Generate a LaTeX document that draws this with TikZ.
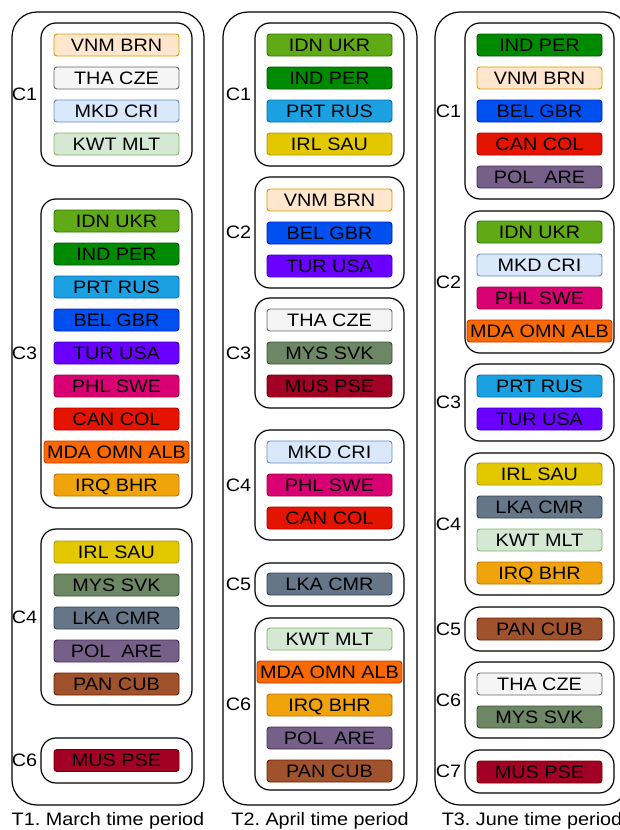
\documentclass[tikz,border=0pt]{standalone}
\usepackage{fontspec}
\setmainfont{Liberation Sans}[FakeStretch=1.1]
\usetikzlibrary{positioning}
\frenchspacing
\definecolor{vnm}{HTML}{FFE6CC}\definecolor{vnml}{HTML}{D79B00}
\definecolor{tha}{HTML}{F5F5F5}\definecolor{thal}{HTML}{666666}
\definecolor{mkd}{HTML}{DAE8FC}\definecolor{mkdl}{HTML}{6C8EBF}
\definecolor{kwt}{HTML}{D5E8D4}\definecolor{kwtl}{HTML}{82B366}
\definecolor{idn}{HTML}{60A917}\definecolor{idnl}{HTML}{2D7600}
\definecolor{ind}{HTML}{008A00}\definecolor{indl}{HTML}{005700}
\definecolor{prt}{HTML}{1BA1E2}\definecolor{prtl}{HTML}{006EAF}
\definecolor{bel}{HTML}{0050EF}\definecolor{bell}{HTML}{001DBC}
\definecolor{tur}{HTML}{6A00FF}\definecolor{turl}{HTML}{3700CC}
\definecolor{phl}{HTML}{D80073}\definecolor{phll}{HTML}{A50040}
\definecolor{can}{HTML}{E51400}\definecolor{canl}{HTML}{B20000}
\definecolor{mda}{HTML}{FA6800}\definecolor{mdal}{HTML}{C73500}
\definecolor{irq}{HTML}{F0A30A}\definecolor{irql}{HTML}{BD7000}
\definecolor{irl}{HTML}{E3C800}\definecolor{irll}{HTML}{B09500}
\definecolor{mys}{HTML}{6D8764}\definecolor{mysl}{HTML}{3A5431}
\definecolor{lka}{HTML}{647687}\definecolor{lkal}{HTML}{314354}
\definecolor{pol}{HTML}{76608A}\definecolor{poll}{HTML}{432D57}
\definecolor{pan}{HTML}{A0522D}\definecolor{panl}{HTML}{6D1F00}
\definecolor{mus}{HTML}{A20025}\definecolor{musl}{HTML}{6F0000}
\begin{document}
\begin{tikzpicture}[x=1pt,y=-1pt, font=\fontsize{18}{20}\selectfont,
 period/.style={draw,line width=1.2pt,rounded corners=25pt,minimum width=194pt,minimum height=793pt,inner sep=0pt},
 clus/.style={draw,line width=1.2pt,rounded corners=15pt,minimum width=149pt,inner sep=0pt},
 clab/.style={inner sep=0pt},
 pair/.style={draw=#1l,fill=#1,line width=0.9pt,rounded corners=3pt,minimum width=125pt,minimum height=22pt,
  inner sep=0pt,text height=12.9pt,text depth=0pt},
 wide/.style={minimum width=145pt}]
\useasboundingbox (0,0) rectangle (619,830);
\node[period,minimum width=192pt] (t1) at (108,408.5) {};
\node[period] (t2) at (320,408.5) {};
\node[period] (t3) at (532,408.5) {};
\node[below=7pt of t1,inner sep=0pt] (t1cap) {T1. March time period};
\node[below=7pt of t2,inner sep=0pt] (t2cap) {T2. April time period};
\node[below=7pt of t3,inner sep=0pt] (t3cap) {T3. June time period};

\node[clus,minimum width=151pt,minimum height=143pt] (t1c1) at (116.5,94.5) {};
\node[clus,minimum width=151pt,minimum height=309pt] (t1c3) at (116.5,353.5) {};
\node[clus,minimum width=151pt,minimum height=176pt] (t1c4) at (116.5,617) {};
\node[clus,minimum width=151pt,minimum height=45pt] (t1c6) at (116.5,760.5) {};
\node[clab,left=3pt of t1c1] {C1};
\node[clab,left=3pt of t1c3] {C3};
\node[clab,left=3pt of t1c4] {C4};
\node[clab,left=3pt of t1c6] {C6};
\node[pair=vnm] (t1vnm) at (116.5,45) {VNM BRN};
\node[pair=tha] (t1tha) at (116.5,78) {THA CZE};
\node[pair=mkd] (t1mkd) at (116.5,111) {MKD CRI};
\node[pair=kwt] (t1kwt) at (116.5,144) {KWT MLT};
\node[pair=idn] (t1idn) at (116.5,221) {IDN UKR};
\node[pair=ind] (t1ind) at (116.5,254) {IND PER};
\node[pair=prt] (t1prt) at (116.5,287) {PRT RUS};
\node[pair=bel] (t1bel) at (116.5,320) {BEL GBR};
\node[pair=tur] (t1tur) at (116.5,353) {TUR USA};
\node[pair=phl] (t1phl) at (116.5,386) {PHL SWE};
\node[pair=can] (t1can) at (116.5,419) {CAN COL};
\node[pair=mda,wide] (t1mda) at (116.5,452) {MDA OMN ALB};
\node[pair=irq] (t1irq) at (116.5,485) {IRQ BHR};
\node[pair=irl] (t1irl) at (116.5,552) {IRL SAU};
\node[pair=mys] (t1mys) at (116.5,585) {MYS SVK};
\node[pair=lka] (t1lka) at (116.5,618) {LKA CMR};
\node[pair=pol] (t1pol) at (116.5,651) {POL\ \ ARE};
\node[pair=pan] (t1pan) at (116.5,684) {PAN CUB};
\node[pair=mus] (t1mus) at (116.5,760.5) {MUS PSE};

\node[clus,minimum height=143pt] (t2c1) at (329.5,94.5) {};
\node[clus,minimum height=111pt] (t2c2) at (329.5,232.5) {};
\node[clus,minimum height=110pt] (t2c3) at (329.5,353) {};
\node[clus,minimum height=110pt] (t2c4) at (329.5,485) {};
\node[clus,minimum height=43pt] (t2c5) at (329.5,584.5) {};
\node[clus,minimum height=172pt] (t2c6) at (329.5,704) {};
\node[clab,left=3pt of t2c1] {C1};
\node[clab,left=3pt of t2c2] {C2};
\node[clab,left=3pt of t2c3] {C3};
\node[clab,left=3pt of t2c4] {C4};
\node[clab,left=3pt of t2c5] {C5};
\node[clab,left=3pt of t2c6] {C6};
\node[pair=idn] (t2idn) at (329.5,45) {IDN UKR};
\node[pair=ind] (t2ind) at (329.5,78) {IND PER};
\node[pair=prt] (t2prt) at (329.5,111) {PRT RUS};
\node[pair=irl] (t2irl) at (329.5,144) {IRL SAU};
\node[pair=vnm] (t2vnm) at (329.5,200) {VNM BRN};
\node[pair=bel] (t2bel) at (329.5,233) {BEL GBR};
\node[pair=tur] (t2tur) at (329.5,266) {TUR USA};
\node[pair=tha] (t2tha) at (329.5,320) {THA CZE};
\node[pair=mys] (t2mys) at (329.5,353) {MYS SVK};
\node[pair=mus] (t2mus) at (329.5,386) {MUS PSE};
\node[pair=mkd] (t2mkd) at (329.5,452) {MKD CRI};
\node[pair=phl] (t2phl) at (329.5,485) {PHL SWE};
\node[pair=can] (t2can) at (329.5,518) {CAN COL};
\node[pair=lka] (t2lka) at (329.5,584) {LKA CMR};
\node[pair=kwt] (t2kwt) at (329.5,639) {KWT MLT};
\node[pair=mda,wide] (t2mda) at (329.5,672) {MDA OMN ALB};
\node[pair=irq] (t2irq) at (329.5,705) {IRQ BHR};
\node[pair=pol] (t2pol) at (329.5,738) {POL\ \ ARE};
\node[pair=pan] (t2pan) at (329.5,771) {PAN CUB};

\node[clus,minimum height=176pt] (t3c1) at (539.5,111) {};
\node[clus,minimum height=142pt] (t3c2) at (539.5,282) {};
\node[clus,minimum height=77pt] (t3c3) at (539.5,402.5) {};
\node[clus,minimum height=142pt] (t3c4) at (539.5,524) {};
\node[clus,minimum height=44pt] (t3c5) at (539.5,629) {};
\node[clus,minimum height=76pt] (t3c6) at (539.5,700) {};
\node[clus,minimum height=43pt] (t3c7) at (539.5,771.5) {};
\node[clab,left=3pt of t3c1] {C1};
\node[clab,left=3pt of t3c2] {C2};
\node[clab,left=3pt of t3c3] {C3};
\node[clab,left=3pt of t3c4] {C4};
\node[clab,left=3pt of t3c5] {C5};
\node[clab,left=3pt of t3c6] {C6};
\node[clab,left=3pt of t3c7] {C7};
\node[pair=ind] (t3ind) at (539.5,45) {IND PER};
\node[pair=vnm] (t3vnm) at (539.5,78) {VNM BRN};
\node[pair=bel] (t3bel) at (539.5,111) {BEL GBR};
\node[pair=can] (t3can) at (539.5,144) {CAN COL};
\node[pair=pol] (t3pol) at (539.5,177) {POL\ \ ARE};
\node[pair=idn] (t3idn) at (539.5,232) {IDN UKR};
\node[pair=mkd] (t3mkd) at (539.5,265) {MKD CRI};
\node[pair=phl] (t3phl) at (539.5,298) {PHL SWE};
\node[pair=mda,wide] (t3mda) at (539.5,331) {MDA OMN ALB};
\node[pair=prt] (t3prt) at (539.5,386) {PRT RUS};
\node[pair=tur] (t3tur) at (539.5,419) {TUR USA};
\node[pair=irl] (t3irl) at (539.5,474) {IRL SAU};
\node[pair=lka] (t3lka) at (539.5,507) {LKA CMR};
\node[pair=kwt] (t3kwt) at (539.5,540) {KWT MLT};
\node[pair=irq] (t3irq) at (539.5,573) {IRQ BHR};
\node[pair=pan] (t3pan) at (539.5,629) {PAN CUB};
\node[pair=tha] (t3tha) at (539.5,684) {THA CZE};
\node[pair=mys] (t3mys) at (539.5,717) {MYS SVK};
\node[pair=mus] (t3mus) at (539.5,772) {MUS PSE};
\end{tikzpicture}
\end{document}
